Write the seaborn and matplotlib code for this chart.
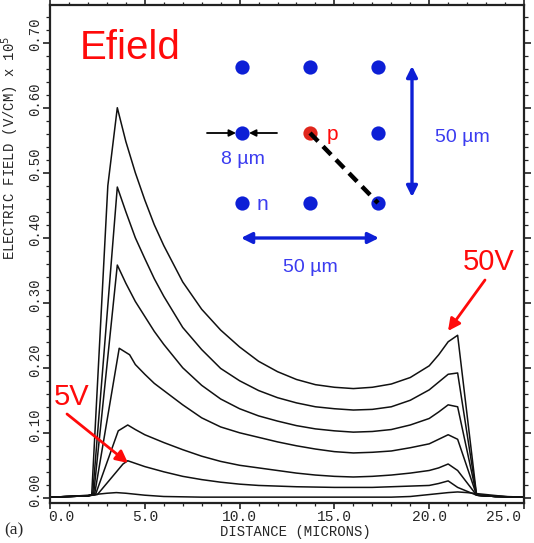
import matplotlib
matplotlib.use("Agg")
import matplotlib.pyplot as plt
from matplotlib.transforms import ScaledTranslation
from matplotlib.ticker import MultipleLocator
import numpy as np
import pandas as pd
import seaborn as sns

# ---------------- data ----------------
body_x = [5, 5.5, 6, 7, 8, 9, 10, 11, 12, 13, 14, 15, 16, 17, 18, 19, 20, 20.5, 21, 21.5, 22.5, 23.5, 25]

x_50V = [0, 1, 2.0, 2.2, 3.05, 3.55, 4.0, 4.5] + body_x
y_50V = [0.001, 0.002, 0.003, 0.005, 0.48, 0.60, 0.548, 0.50,
         0.458, 0.42, 0.388, 0.332, 0.29, 0.258, 0.232, 0.21, 0.194, 0.182, 0.174, 0.170, 0.168, 0.170,
         0.175, 0.185, 0.203, 0.22, 0.24, 0.25, 0.004, 0.002, 0.001]

x_40V = [0, 1, 2.0, 2.25, 3.55, 4.0, 4.5] + body_x
y_40V = [0.001, 0.002, 0.003, 0.005, 0.478, 0.44, 0.40,
         0.368, 0.337, 0.31, 0.262, 0.228, 0.199, 0.18, 0.165, 0.154, 0.146, 0.140, 0.137, 0.135, 0.136,
         0.140, 0.150, 0.166, 0.178, 0.190, 0.192, 0.004, 0.002, 0.001]

x_30V = [0, 1, 2.0, 2.3, 3.55, 4.0, 4.5] + body_x
y_30V = [0.001, 0.002, 0.003, 0.005, 0.358, 0.33, 0.302,
         0.279, 0.256, 0.236, 0.2, 0.173, 0.152, 0.137, 0.126, 0.118, 0.111, 0.106, 0.103, 0.101, 0.102,
         0.105, 0.112, 0.122, 0.132, 0.143, 0.140, 0.004, 0.002, 0.001]

x_20V = [0, 1, 2.0, 2.35, 3.65, 4.2, 4.5] + body_x
y_20V = [0.001, 0.002, 0.003, 0.005, 0.23, 0.22, 0.205,
         0.19, 0.176, 0.165, 0.143, 0.123, 0.109, 0.100, 0.093, 0.086, 0.080, 0.075, 0.071, 0.069, 0.070,
         0.072, 0.077, 0.083, 0.090, 0.097, 0.090, 0.004, 0.002, 0.001]

x_10V = [0, 1, 2.0, 2.4, 3.6, 4.1, 4.5] + body_x
y_10V = [0.001, 0.002, 0.003, 0.005, 0.103, 0.112, 0.105,
         0.097, 0.091, 0.085, 0.074, 0.064, 0.056, 0.050, 0.046, 0.042, 0.038, 0.035, 0.033, 0.032, 0.033,
         0.035, 0.038, 0.042, 0.046, 0.052, 0.042, 0.004, 0.002, 0.001]

x_5V = [0, 1, 2.0, 2.5, 3.85, 4.1, 4.5] + body_x
y_5V = [0.001, 0.002, 0.003, 0.005, 0.052, 0.057, 0.053,
        0.048, 0.044, 0.040, 0.033, 0.028, 0.024, 0.021, 0.019, 0.018, 0.017, 0.0165, 0.016, 0.016, 0.016,
        0.017, 0.018, 0.019, 0.022, 0.026, 0.016, 0.004, 0.002, 0.001]

x_0V = [0, 1, 2, 3, 3.5, 4, 5, 6, 8, 10, 12, 14, 16, 18, 19, 20, 21, 21.5, 22, 23, 24, 25]
y_0V = [0.001, 0.002, 0.004, 0.007, 0.008, 0.007, 0.004, 0.002, 0.001, 0.001, 0.001, 0.001,
        0.001, 0.001, 0.002, 0.005, 0.008, 0.009, 0.008, 0.005, 0.002, 0.001]

curves = [("50V", x_50V, y_50V), ("40V", x_40V, y_40V), ("30V", x_30V, y_30V),
          ("20V", x_20V, y_20V), ("10V", x_10V, y_10V), ("5V", x_5V, y_5V), ("0V", x_0V, y_0V)]

x_ticks = [0, 5, 10, 15, 20, 25]
x_ticklabels = ["0.0", "5.0", "10.0", "15.0", "20.0", "25.0"]
y_ticks = [0.0, 0.1, 0.2, 0.3, 0.4, 0.5, 0.6, 0.7]
y_ticklabels = ["0.00", "0.10", "0.20", "0.30", "0.40", "0.50", "0.60", "0.70"]

# inset diagram (decoration, in figure pixels)
grid_cols = [242, 310, 378]
grid_rows = [67, 133, 203]

rows = []
for name, xs, ys in curves:
    for xv, yv in zip(xs, ys):
        rows.append({"bias": name, "x": xv, "E": yv})
df = pd.DataFrame(rows)

# ---------------- plotting ----------------
sns.set_style("ticks")
plt.rcParams["font.family"] = ["DejaVu Sans"]

W, H = 534, 543
fig = plt.figure(figsize=(W / 100, H / 100), dpi=100)
L, R, T, B = 50, 524, 5, 503
ax = fig.add_axes([L / W, (H - B) / H, (R - L) / W, (B - T) / H])

sns.lineplot(data=df, x="x", y="E", hue="bias", palette=["#111111"] * len(curves),
             sort=False, estimator=None, legend=False, linewidth=1.1, ax=ax)

ax.set_xlim(0, 25)
ax.set_ylim(-0.008, 0.758)
ax.set_xticks(x_ticks)
ax.set_xticklabels(x_ticklabels, fontfamily="Liberation Mono", fontsize=10.5)
ax.set_yticks(y_ticks)
ax.set_yticklabels(y_ticklabels, fontfamily="Liberation Mono", fontsize=10,
                   rotation=90, va="center")
ax.xaxis.set_minor_locator(MultipleLocator(1))
ax.yaxis.set_minor_locator(MultipleLocator(0.02))
ax.tick_params(axis="both", which="both", top=True, right=True, color="#222222")
ax.tick_params(axis="x", which="major", direction="out", length=4, width=1.2, pad=1)
ax.tick_params(axis="x", which="minor", direction="out", length=2.5, width=0.9)
ax.tick_params(axis="y", which="major", direction="out", length=5, width=1.2, pad=1)
ax.tick_params(axis="y", which="minor", direction="out", length=3, width=0.9)
for s in ax.spines.values():
    s.set_linewidth(1.6)
    s.set_color("#222222")

for lab in ax.get_yticklabels():
    lab.set_transform(lab.get_transform() + ScaledTranslation(0, 8 / 100, fig.dpi_scale_trans))
xt = ax.get_xticklabels()
xt[0].set_horizontalalignment("left")
xt[0].set_transform(xt[0].get_transform() + ScaledTranslation(-2 / 100, 0, fig.dpi_scale_trans))
xt[-1].set_horizontalalignment("right")
xt[-1].set_transform(xt[-1].get_transform() + ScaledTranslation(-3 / 100, 0, fig.dpi_scale_trans))

ax.set_xlabel("DISTANCE (MICRONS)", fontfamily="Liberation Mono", fontsize=10)
ax.xaxis.set_label_coords((295 - L) / (R - L), (B - 525) / (B - T))
ax.set_ylabel(r"ELECTRIC FIELD (V/CM) x 10$^5$", fontfamily="Liberation Mono", fontsize=10)
ax.yaxis.set_label_coords((21 - L) / (R - L), (B - 148) / (B - T))
fig.text(4 / W, 1 - 530 / H, "(a)", fontfamily="Liberation Serif", fontsize=12.5, va="center")

# ---------------- overlay in pixel coordinates ----------------
ov = fig.add_axes([0, 0, 1, 1], zorder=5)
ov.set_xlim(0, W)
ov.set_ylim(H, 0)
ov.axis("off")
ov.patch.set_alpha(0)

blue = "#0d1fd6"
lblue = "#3b3cf0"
red = "#ff0a0a"

gx, gy = np.meshgrid(grid_cols, grid_rows)
is_center = (gx == grid_cols[1]) & (gy == grid_rows[1])
ov.scatter(gx[~is_center], gy[~is_center], s=105, color=blue, zorder=6, linewidths=0)
ov.scatter([grid_cols[1]], [grid_rows[1]], s=105, color="#e0261c", zorder=6, linewidths=0)

ov.plot([grid_cols[1], grid_cols[2]], [grid_rows[1], grid_rows[2]], color="black",
        lw=3.2, dashes=(2.6, 1.6), zorder=7)

ov.text(327, 134, "p", color=red, fontsize=15, va="center", ha="left", fontfamily="Liberation Sans")
ov.text(257, 204, "n", color=lblue, fontsize=15, va="center", ha="left", fontfamily="Liberation Sans")

arr_k = dict(arrowstyle="-|>", color="black", lw=1.3, mutation_scale=10, shrinkA=0, shrinkB=0)
ov.annotate("", xy=(236, 133), xytext=(207, 133), arrowprops=arr_k)
ov.annotate("", xy=(249, 133), xytext=(277, 133), arrowprops=arr_k)
ov.text(243, 160, "8 µm", color=lblue, fontsize=14, ha="center", va="center",
        fontfamily="Liberation Sans")

arr_b = dict(arrowstyle="<|-|>", color=blue, lw=2.4, mutation_scale=16, shrinkA=0, shrinkB=0)
ov.annotate("", xy=(412, 66), xytext=(412, 197), arrowprops=arr_b)
ov.text(462, 138, "50 µm", color=lblue, fontsize=14, ha="center", va="center",
        fontfamily="Liberation Sans")
ov.annotate("", xy=(241, 238), xytext=(379, 238), arrowprops=arr_b)
ov.text(310, 267, "50 µm", color=lblue, fontsize=14, ha="center", va="center",
        fontfamily="Liberation Sans")

ov.text(80, 48, "Efield", color=red, fontsize=29, ha="left", va="center",
        fontfamily="Liberation Sans")
ov.text(489, 262, "50V", color=red, fontsize=21, ha="center", va="center",
        fontfamily="Liberation Sans")
ov.text(72, 397, "5V", color=red, fontsize=21, ha="center", va="center",
        fontfamily="Liberation Sans")

arr_r = dict(arrowstyle="-|>", color=red, lw=2.0, mutation_scale=18, shrinkA=0, shrinkB=0)
ov.annotate("", xy=(448, 331), xytext=(485, 280), arrowprops=arr_r)
ov.annotate("", xy=(128, 463), xytext=(67, 414), arrowprops=arr_r)

fig.savefig("out.png", dpi=100)
